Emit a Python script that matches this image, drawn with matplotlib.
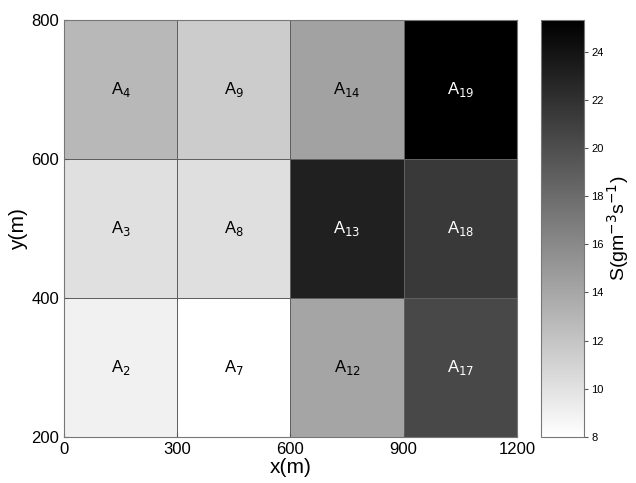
import numpy as np
import matplotlib
matplotlib.use('Agg')
import matplotlib.pyplot as plt

plt.rcParams['font.family'] = ['Liberation Sans', 'DejaVu Sans']

# ── Data ──────────────────────────────────────────────────────────────────────
x_edges = [0, 300, 600, 900, 1200]
y_edges = [200, 400, 600, 800]

# rows bottom → top, columns left → right
cell_names = [
    ['2', '7', '12', '17'],
    ['3', '8', '13', '18'],
    ['4', '9', '14', '19'],
]
S_values = [
    [9.0, 8.0, 14.1, 20.4],
    [10.1, 10.2, 23.1, 21.4],
    [12.8, 11.5, 14.3, 25.3],
]
cbar_ticks = [8, 10, 12, 14, 16, 18, 20, 22, 24]
V_MIN, V_MAX = 8.0, 25.3

# ── Plot ──────────────────────────────────────────────────────────────────────
fig = plt.figure(figsize=(6.36, 4.83), dpi=100)
ax = fig.add_axes([0.1006, 0.0952, 0.712, 0.863])
cax = fig.add_axes([0.851, 0.0952, 0.068, 0.863])

S = np.array(S_values)
im = ax.pcolormesh(x_edges, y_edges, S, cmap='gray_r', vmin=V_MIN, vmax=V_MAX,
                   edgecolors='#606060', linewidth=0.5)

for i in range(len(y_edges) - 1):
    for j in range(len(x_edges) - 1):
        xc = (x_edges[j] + x_edges[j + 1]) / 2
        yc = (y_edges[i] + y_edges[i + 1]) / 2
        frac = (S[i, j] - V_MIN) / (V_MAX - V_MIN)
        color = 'white' if frac > 0.6 else 'black'
        ax.text(xc, yc, r'A$_{%s}$' % cell_names[i][j], ha='center',
                va='center', fontsize=12, color=color)

ax.set_xlim(0, 1200)
ax.set_ylim(200, 800)
ax.set_xticks(x_edges)
ax.set_yticks([200, 400, 600, 800])
ax.tick_params(direction='in', length=3, labelsize=12, color='#555555')
for sp in ax.spines.values():
    sp.set_color('#777777')
ax.set_xlabel('x(m)', fontsize=15, labelpad=1)
ax.set_ylabel('y(m)', fontsize=15, labelpad=2)

cb = fig.colorbar(im, cax=cax, ticks=cbar_ticks)
cb.ax.tick_params(labelsize=8, length=3, pad=2, color='#555555')
cb.outline.set_edgecolor('#777777')
cb.set_label(r'S(gm$^{-3}$s$^{-1}$)', fontsize=14, labelpad=1)

fig.savefig('out.png', dpi=100)
